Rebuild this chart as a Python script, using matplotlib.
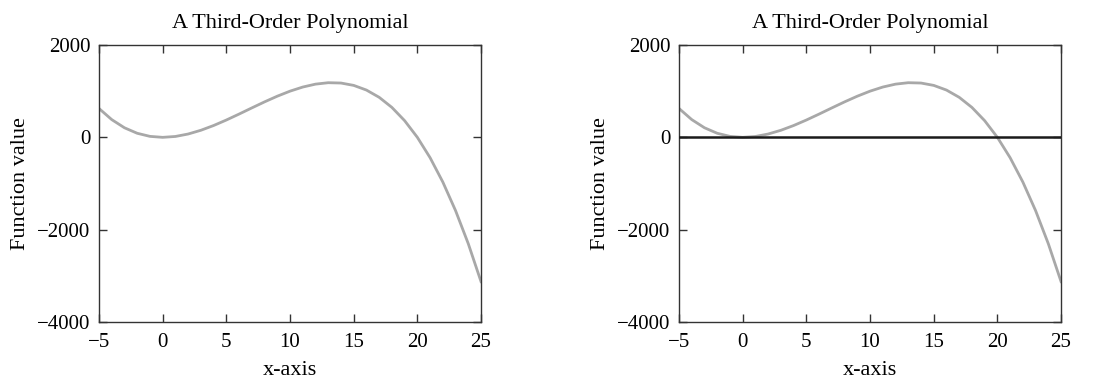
import matplotlib
matplotlib.use('Agg')
import matplotlib.pyplot as plt

# Values at integer x
x_vals = [-5, -4, -3, -2, -1, 0, 1, 2, 3, 4, 5, 6, 7, 8, 9, 10,
          11, 12, 13, 14, 15, 16, 17, 18, 19, 20, 21, 22, 23, 24, 25]
y_vals = [625, 384, 207, 88, 21, 0, 19, 72, 153, 256, 375, 504, 637, 768, 891, 1000,
          1089, 1152, 1183, 1176, 1125, 1024, 867, 648, 361, 0, -441, -968, -1587, -2304, -3125]

x_ticks = [-5, 0, 5, 10, 15, 20, 25]
y_ticks = [-4000, -2000, 0, 2000]
zero_line_x = [-5, 25]
zero_line_y = [0, 0]

plt.rcParams['font.family'] = ['Liberation Serif', 'DejaVu Serif']
plt.rcParams['axes.unicode_minus'] = True

fig = plt.figure(figsize=(11, 3.78), dpi=100)
ax1 = fig.add_axes([0.09, 0.148, 0.3473, 0.733])
ax2 = fig.add_axes([0.6173, 0.148, 0.3473, 0.733])

for i, ax in enumerate([ax1, ax2]):
    ax.plot(x_vals, y_vals, color='#a8a8a8', linewidth=2.0, zorder=2,
            solid_joinstyle='round')
    if i == 1:
        # horizontal reference line at zero
        ax.plot(zero_line_x, zero_line_y, color='#1a1a1a', linewidth=1.8, zorder=3)
    ax.set_xlim(-5, 25)
    ax.set_ylim(-4000, 2000)
    ax.set_xticks(x_ticks)
    ax.set_yticks(y_ticks)
    ax.tick_params(direction='in', top=True, right=True, length=6, width=1.0,
                   color='#333333', labelsize=15)
    ax.tick_params(axis='x', pad=8)
    ax.tick_params(axis='y', pad=6)
    for s in ax.spines.values():
        s.set_color('#333333')
        s.set_linewidth(1.0)
    ax.set_title('A Third-Order Polynomial', fontsize=16, pad=12)
    ax.set_xlabel('x-axis', fontsize=16, labelpad=6)
    ax.set_ylabel('Function value', fontsize=16, labelpad=5)

fig.savefig('out.png', dpi=100)
